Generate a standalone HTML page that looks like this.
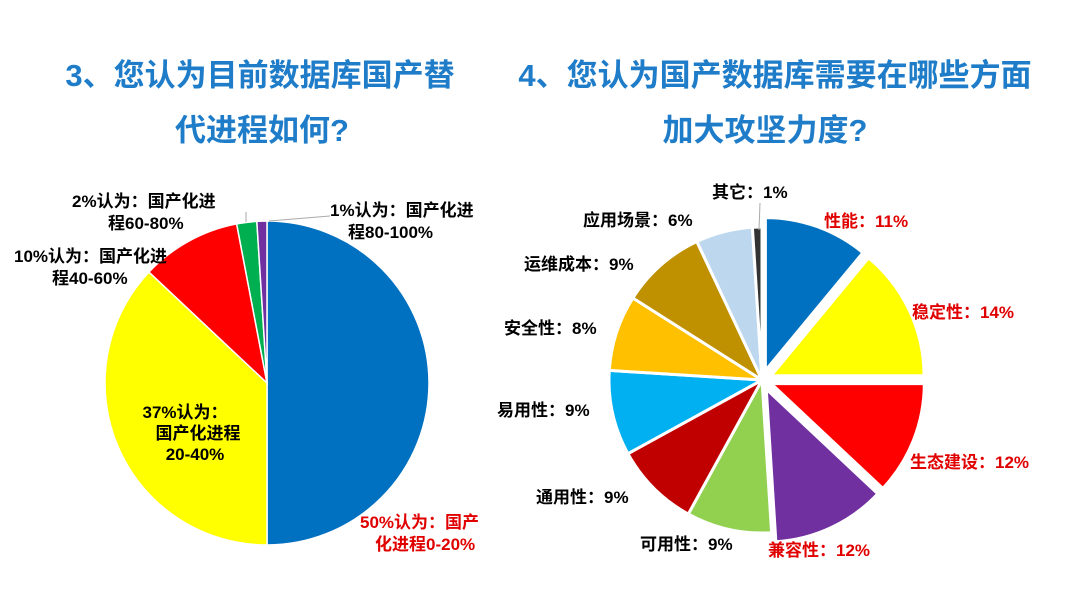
<!DOCTYPE html>
<html><head><meta charset="utf-8"><style>
body{margin:0;width:1080px;height:608px;background:#fff;overflow:hidden;font-family:"Liberation Sans","Noto Sans CJK SC",sans-serif}
svg text{font-family:"Liberation Sans","Noto Sans CJK SC",sans-serif;font-weight:bold}
</style></head><body>
<svg id="c" width="1080" height="608">
<text x="260" y="86" text-anchor="middle" font-size="31" fill="#1E7CC8">3、您认为目前数据库国产替</text>
<text x="262" y="141" text-anchor="middle" font-size="31" fill="#1E7CC8">代进程如何?</text>
<text x="775" y="86" text-anchor="middle" font-size="31" fill="#1E7CC8">4、您认为国产数据库需要在哪些方面</text>
<text x="765" y="141" text-anchor="middle" font-size="31" fill="#1E7CC8">加大攻坚力度?</text>
<g id="left"></g><g id="right"></g>
<g font-size="17">
<text x="360" y="528" fill="#E00000">50%认为：国产</text>
<text x="375" y="550" fill="#E00000">化进程0-20%</text>
<text x="152" y="418" text-anchor="middle" fill="#000"><tspan x="185">37%认为：</tspan><tspan x="198" dy="21">国产化进程</tspan><tspan x="195" dy="21">20-40%</tspan></text>
<text x="14" y="262" fill="#000">10%认为：国产化进</text>
<text x="52" y="284" fill="#000">程40-60%</text>
<text x="72" y="207" fill="#000">2%认为：国产化进</text>
<text x="108" y="229" fill="#000">程60-80%</text>
<text x="330" y="216" fill="#000">1%认为：国产化进</text>
<text x="348" y="238" fill="#000">程80-100%</text>
<line x1="246" y1="222" x2="246" y2="212" stroke="#aaa"/>
<line x1="269" y1="221" x2="330" y2="216" stroke="#aaa"/>
<text x="824" y="227" fill="#E00000">性能：11%</text>
<text x="912" y="318" fill="#E00000">稳定性：14%</text>
<text x="910" y="468" fill="#E00000">生态建设：12%</text>
<text x="768" y="556" fill="#E00000">兼容性：12%</text>
<text x="640" y="550" fill="#000">可用性：9%</text>
<text x="536" y="503" fill="#000">通用性：9%</text>
<text x="497" y="416" fill="#000">易用性：9%</text>
<text x="504" y="334" fill="#000">安全性：8%</text>
<text x="524" y="270" fill="#000">运维成本：9%</text>
<text x="583" y="226" fill="#000">应用场景：6%</text>
<text x="712" y="198" fill="#000">其它：1%</text>
<line x1="759" y1="230" x2="760" y2="203" stroke="#aaa"/>
</g>
</svg>
<script>
const leftCats=["0-20%","20-40%","40-60%","60-80%","80-100%"];
const leftVals=[50,37,10,2,1];
const leftColors=["#0070C0","#FFFF00","#FF0000","#00B050","#7030A0"];
const rightCats=["性能","稳定性","生态建设","兼容性","可用性","通用性","易用性","安全性","运维成本","应用场景","其它"];
const rightVals=[11,14,12,12,9,9,9,8,9,6,1];
const rightColors=["#0070C0","#FFFF00","#FF0000","#7030A0","#92D050","#C00000","#00B0F0","#FFC000","#BF9000","#BDD7EE","#333333"];
const rightExplode=[10,10,10,10,0,0,0,0,0,0,0];
const NS="http://www.w3.org/2000/svg";
function pie(g,vals,colors,cx,cy,r,expl,names,stroke){
  const tot=vals.reduce((a,b)=>a+b,0);let a0=-Math.PI/2;
  vals.forEach((v,i)=>{
    const a1=a0+v/tot*2*Math.PI,am=(a0+a1)/2,e=expl?expl[i]:0;
    const ox=cx+e*Math.cos(am),oy=cy+e*Math.sin(am);
    const p=document.createElementNS(NS,"path");
    const large=(a1-a0)>Math.PI?1:0;
    p.setAttribute("d",`M${ox},${oy}L${ox+r*Math.cos(a0)},${oy+r*Math.sin(a0)}A${r},${r} 0 ${large} 1 ${ox+r*Math.cos(a1)},${oy+r*Math.sin(a1)}Z`);
    p.setAttribute("fill",colors[i]);p.setAttribute("stroke","#fff");p.setAttribute("stroke-width",stroke);
    
    
    g.appendChild(p);a0=a1;
  });
}
pie(document.getElementById("left"),leftVals,leftColors,267,383,162,null,leftCats,1.5);
pie(document.getElementById("right"),rightVals,rightColors,762,380,153,rightExplode,rightCats,3);
</script>
</body></html>
